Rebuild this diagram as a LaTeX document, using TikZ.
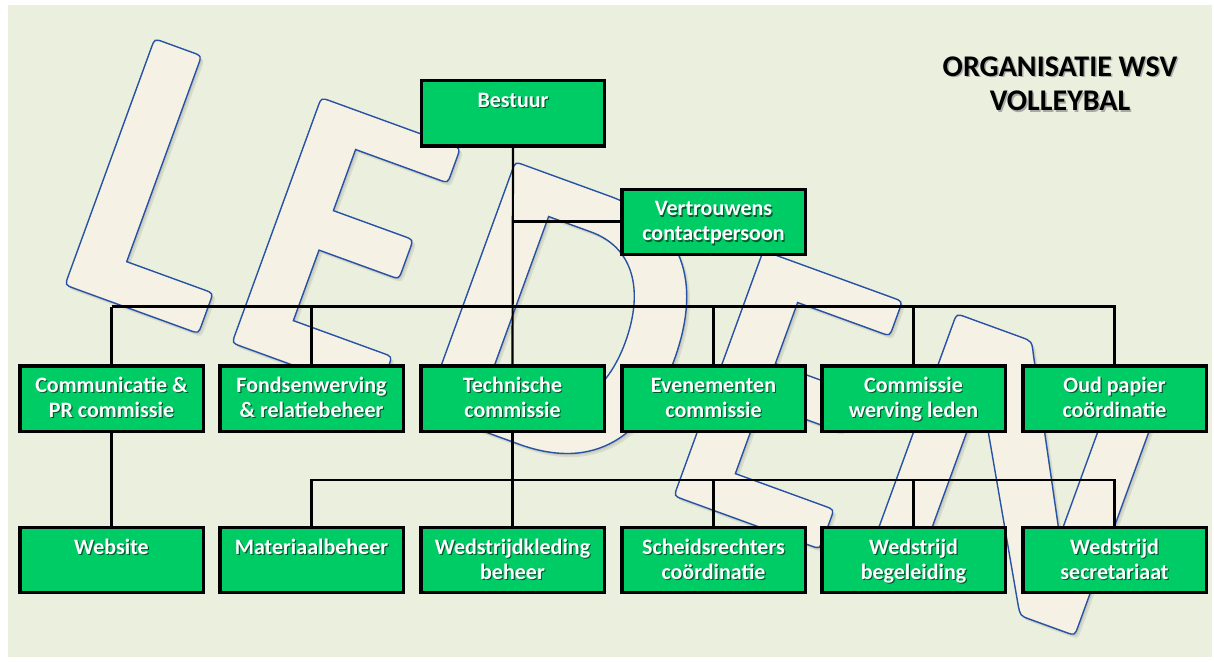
\documentclass[tikz,border=0pt]{standalone}
\usepackage{fontspec}
\setmainfont{Carlito}
\definecolor{bgcol}{RGB}{235,239,222}
\definecolor{cream}{RGB}{245,242,229}
\definecolor{lblue}{RGB}{40,82,165}
\definecolor{boxgreen}{RGB}{0,204,102}
\newcommand{\shapeL}{(10,0) -- (132,0) .. controls (142,0) .. (142,10) -- (142,33) .. controls (142,43) .. (132,43) -- (50,43) -- (50,252) .. controls (50,262) .. (40,262) -- (10,262) .. controls (0,262) .. (0,252) -- (0,10) .. controls (0,0) .. (10,0) -- cycle}
\newcommand{\shapeE}{(10,0) -- (145,0) .. controls (155,0) .. (155,10) -- (155,32) .. controls (155,42) .. (145,42) -- (50,42) -- (50,117) -- (125,117) .. controls (135,117) .. (135,127) -- (135,149) .. controls (135,159) .. (125,159) -- (50,159) -- (50,224) -- (138,224) .. controls (148,224) .. (148,234) -- (148,251) .. controls (148,261) .. (138,261) -- (10,261) .. controls (0,261) .. (0,251) -- (0,10) .. controls (0,0) .. (10,0) -- cycle}
\newcommand{\shapeD}{(10,0) -- (100,0) .. controls (180,0) and (217,50) .. (217,132) .. controls (217,214) and (180,264) .. (100,264) -- (10,264) .. controls (0,264) .. (0,254) -- (0,10) .. controls (0,0) .. (10,0) -- cycle (50,40) -- (95,40) .. controls (140,40) and (165,80) .. (165,132) .. controls (165,188) and (140,224) .. (95,224) -- (50,224) -- cycle}
\newcommand{\shapeN}{(10,0) -- (40,0) .. controls (50,0) .. (50,10) -- (50,197) -- (157,10) .. controls (163,0) .. (173,0) -- (211,0) .. controls (221,0) .. (221,10) -- (221,252) .. controls (221,262) .. (211,262) -- (183,262) .. controls (173,262) .. (173,252) -- (173,88) -- (86,250) .. controls (80,262) .. (68,262) -- (10,262) .. controls (0,262) .. (0,252) -- (0,10) .. controls (0,0) .. (10,0) -- cycle}
\newcommand{\letterat}[3]{%
\begin{scope}[shift={(#1,#2)}, x={(0.47pt,-0.171pt)}, y={(0.171pt,0.47pt)}]
\fill[lshadow, xshift=1.6pt, yshift=-1.8pt] #3;
\fill[lshadow, xshift=0.8pt, yshift=-0.9pt] #3;
\filldraw[lettersty] #3;
\end{scope}}
% #1 name, #2 text, #3 baseline offset of the last line below the box top
\newcommand{\boxtext}[3]{%
\node[txtsh] (#1-ts) at ([xshift=0.6pt,yshift=-#3-0.6pt]#1.north) {#2};
\node[txtw] (#1-tw) at ([yshift=-#3]#1.north) {#2};}
\begin{document}
\begin{tikzpicture}[x=0.5pt,y=-0.5pt,
  lettersty/.style={fill=cream, draw=lblue, line width=0.7pt, even odd rule},
  lshadow/.style={fill=black, opacity=0.08, even odd rule},
  orgbox/.style={draw=black, line width=1.6pt, fill=boxgreen, minimum width=90pt, minimum height=31pt, inner sep=0pt},
  txtw/.style={text=white, font=\bfseries\fontsize{11}{12.5}\selectfont, align=center, anchor=base, inner sep=0pt},
  txtsh/.style={text=black, opacity=0.55, font=\bfseries\fontsize{11}{12.5}\selectfont, align=center, anchor=base, inner sep=0pt},
  thinln/.style={draw=black, line width=1.1pt},
  thickln/.style={draw=black, line width=1.5pt},
  ttl/.style={font=\bfseries\fontsize{15}{17.3}\selectfont, align=center, anchor=base, inner sep=0pt}]
\useasboundingbox (0,0) rectangle (1214,662);
\fill[white] (0,0) rectangle (1214,662);
\fill[bgcol] (8,5) rectangle (1212,657);
% letters LEDEN
\letterat{32.5pt}{-142.5pt}{\shapeL}
\letterat{116pt}{-171.5pt}{\shapeE}
\letterat{212.5pt}{-205pt}{\shapeD}
\letterat{337pt}{-248pt}{\shapeE}
\letterat{433.5pt}{-280pt}{\shapeN}
% boxes
\node[orgbox] (best) at (513,113.5) {};
\node[orgbox] (vert) at (713.5,222) {};
\node[orgbox] (comm) at (111.5,398.5) {};
\node[orgbox] (fond) at (311.5,398.5) {};
\node[orgbox] (tech) at (512.5,398.5) {};
\node[orgbox] (even) at (713.5,398.5) {};
\node[orgbox] (cwl) at (913.5,398.5) {};
\node[orgbox] (oud) at (1114.5,398.5) {};
\node[orgbox] (web) at (111.5,560) {};
\node[orgbox] (mat) at (311.5,560) {};
\node[orgbox] (wkl) at (512.5,560) {};
\node[orgbox] (schei) at (713.5,560) {};
\node[orgbox] (begl) at (913.5,560) {};
\node[orgbox] (secr) at (1114.5,560) {};
% connectors
\coordinate (busy) at (0,307);
\coordinate (lbusy) at (0,480);
\draw[thinln] (best.south) -- (tech.north);
\draw[thickln] (best.south |- vert.west) -- (vert.west);
\draw[thinln] (comm.north) -- (comm.north |- busy);
\draw[thickln] (comm.north |- busy) -- (busy -| oud.north) -- (oud.north);
\draw[thickln] (fond.north |- busy) -- (fond.north);
\draw[thinln] (even.north |- busy) -- (even.north);
\draw[thinln] (cwl.north |- busy) -- (cwl.north);
\draw[thinln] (comm.south) -- (web.north);
\draw[thinln] (tech.south) -- (wkl.north);
\draw[thinln] (mat.north) |- (lbusy -| secr.north) -- (secr.north);
\draw[thickln] (schei.north |- lbusy) -- (schei.north);
\draw[thickln] (begl.north |- lbusy) -- (begl.north);
% redraw boxes on top of connectors
\foreach \b in {best,vert,comm,fond,tech,even,cwl,oud,web,mat,wkl,schei,begl,secr}{
  \draw[line width=1.6pt, fill=boxgreen] (\b.north west) rectangle (\b.south east);}
% texts
\boxtext{best}{Bestuur}{13.3pt}
\boxtext{vert}{Vertrouwens\\contactpersoon}{25.8pt}
\boxtext{comm}{Communicatie \&\\PR commissie}{25.8pt}
\boxtext{fond}{Fondsenwerving\\\& relatiebeheer}{25.8pt}
\boxtext{tech}{Technische\\commissie}{25.8pt}
\boxtext{even}{Evenementen\\commissie}{25.8pt}
\boxtext{cwl}{Commissie\\werving leden}{25.8pt}
\boxtext{oud}{Oud papier\\coördinatie}{25.8pt}
\boxtext{web}{Website}{13.3pt}
\boxtext{mat}{Materiaalbeheer}{13.3pt}
\boxtext{wkl}{Wedstrijdkleding\\beheer}{25.8pt}
\boxtext{schei}{Scheidsrechters\\coördinatie}{25.8pt}
\boxtext{begl}{Wedstrijd\\begeleiding}{25.8pt}
\boxtext{secr}{Wedstrijd\\secretariaat}{25.8pt}
% title
\node[ttl, text=black!45, opacity=0.7] (title-sh) at (1061.5,112.5) {ORGANISATIE WSV\\VOLLEYBAL};
\node[ttl, text=black] (title) at (1060,111) {ORGANISATIE WSV\\VOLLEYBAL};
\end{tikzpicture}
\end{document}
